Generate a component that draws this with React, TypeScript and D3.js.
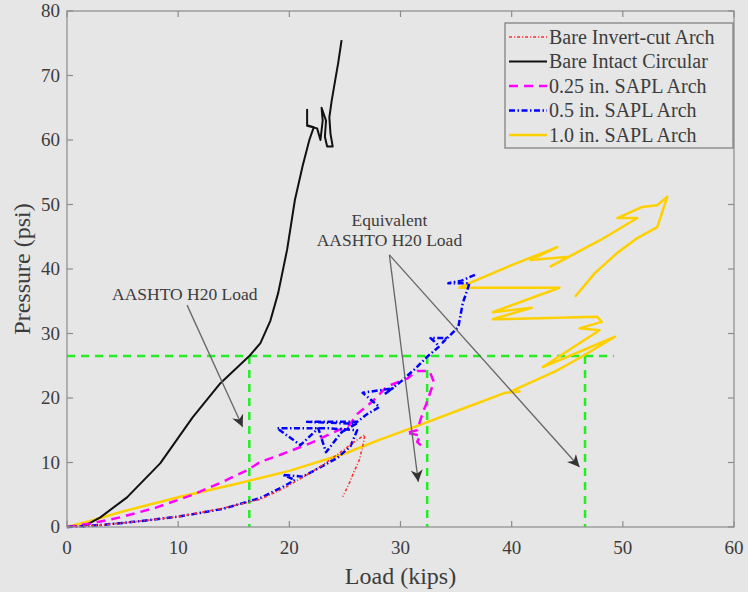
import React, { useEffect, useRef } from "react";
import * as d3 from "d3";

type Pt = [number, number];

// Load (kips) vs pressure (psi)
const bareInvertCut: Pt[] = [
  [0, 0], [3, 0.3], [6, 0.8], [10, 1.6], [14, 2.9], [17.4, 4.3], [19.5, 6], [21.6, 8.1],
  [23, 9.6], [24.3, 11.2], [25.3, 12.5], [26.1, 13.5], [26.8, 14.3], [26.6, 12.5],
  [26.3, 10.4], [25.8, 8.5], [25.4, 6.8], [24.8, 4.7],
];

const bareIntact: Pt[] = [
  [1.4, 0], [3, 1.5], [5.4, 4.6], [8.4, 9.9], [11.3, 17], [13.8, 22.3], [16.4, 26.5],
  [17.4, 28.5], [18.3, 32], [19, 36.3], [19.8, 43], [20.5, 50.7], [21.2, 56], [21.8, 60],
  [22.2, 62], [21.6, 62.3], [21.6, 64.7], [21.6, 62.2], [22.5, 61.8], [22.8, 60], [23, 63],
  [22.9, 65], [23.3, 63], [23.2, 60.5], [23.4, 59], [23.9, 59], [23.7, 61], [23.6, 63.5],
  [23.8, 66], [24.1, 69], [24.4, 72], [24.7, 75.5],
];

const sapl025: Pt[] = [
  [0, 0], [2, 0.5], [4.8, 1.5], [8, 3], [11.3, 5], [14, 7], [16.2, 8.8], [17.4, 10.1],
  [19.2, 11.2], [21.9, 13], [25.4, 15.8], [26.1, 17.5], [27.5, 19.5], [28.8, 21.8],
  [30.6, 23], [31.5, 24.2], [32.6, 24.2], [33, 22.5], [32.3, 19], [32, 17.7], [31.5, 15],
  [30.5, 14.6], [31.8, 14.2], [31.5, 13.2], [32, 12.4],
];

const sapl05: Pt[] = [
  [0, 0], [3, 0.3], [6, 0.8], [10, 1.6], [14, 2.8], [17.4, 4.5], [19.5, 6.3], [20.5, 7.3],
  [19.4, 8.1], [21.2, 7.8], [22.5, 9], [24.3, 10.7], [25.5, 12.5], [26.1, 15], [23.5, 15.3],
  [18.9, 15.3], [21, 12.7], [22.6, 15.3], [23.3, 11.6], [24.7, 14.7], [26, 16], [21.6, 16.3],
  [26.1, 16.3], [27, 17.5], [28.1, 18.6], [26.6, 20.8], [29.3, 21.5], [28.5, 20.5], [30, 22.5],
  [31.3, 24.5], [32.4, 26.4], [33.5, 28], [32.7, 29.3], [34.1, 29.3], [33.8, 28.6], [35.2, 31],
  [35.6, 34.7], [36, 36.7], [36.2, 37.8], [34.3, 37.8], [35.5, 38.2], [36.7, 39.1],
];

const sapl10: Pt[] = [
  [0, 0], [2, 0.9], [5, 2.4], [10, 4.6], [15, 6.6], [17.4, 7.6], [20, 8.7], [25, 11.4],
  [28.1, 13.5], [32, 16], [36, 18.6], [39.4, 20.8], [40.7, 21], [39.8, 20.9], [44, 24.2],
  [46.1, 26.2], [49.3, 29.5], [42.8, 24.8], [47.9, 30.5], [46.1, 30.8], [48.1, 31.8],
  [47.7, 32.6], [38.3, 32.2], [41.8, 34], [38.3, 33.3], [44.3, 37.1], [35.3, 37.1],
  [36.2, 37.8], [40, 40.6], [44.1, 43.4], [41.7, 41.4], [45.2, 41.9], [43.5, 40.4],
  [48, 44.5], [51.3, 47.9], [49.5, 47.9], [51.7, 49.6], [53.1, 49.9], [54, 51.2],
  [53.1, 46.5], [51.3, 44.8], [49.5, 42.5], [47.5, 39.4], [45.7, 35.7],
];

const h20Level = 26.5;
const h20Loads = [16.4, 32.4, 46.6];
const h20LineEnd = 49.2;

const xTicks = [0, 10, 20, 30, 40, 50, 60];
const yTicks = [0, 10, 20, 30, 40, 50, 60, 70, 80];

const seriesNames = [
  "Bare Invert-cut Arch",
  "Bare Intact Circular",
  "0.25 in. SAPL Arch",
  "0.5 in. SAPL Arch",
  "1.0 in. SAPL Arch",
];

const W = 748;
const H = 592;
const margin = { left: 67, right: 14, top: 11, bottom: 65 };
const font = "'Liberation Serif', 'Times New Roman', serif";

export default function App() {
  const svgRef = useRef<SVGSVGElement>(null);

  useEffect(() => {
    const svg = d3.select(svgRef.current);
    svg.selectAll("*").remove();

    const x = d3.scaleLinear().domain([0, 60]).range([margin.left, W - margin.right]);
    const y = d3.scaleLinear().domain([0, 80]).range([H - margin.bottom, margin.top]);

    svg.append("rect").attr("width", W).attr("height", H).attr("fill", "#e6e6e6");

    const defs = svg.append("defs");
    defs.append("marker")
      .attr("id", "arrow")
      .attr("viewBox", "0 0 10 10")
      .attr("refX", 10).attr("refY", 5)
      .attr("markerWidth", 14).attr("markerHeight", 12)
      .attr("markerUnits", "userSpaceOnUse")
      .attr("orient", "auto")
      .append("path")
      .attr("d", "M0,0 L10,5 L0,10 L3,5 Z")
      .attr("fill", "#333");

    const styles = [
      { data: bareInvertCut, color: "#ff3030", width: 1.6, dash: "3,2,1,2" },
      { data: bareIntact, color: "#111", width: 2, dash: null },
      { data: sapl025, color: "#ff00ff", width: 2.5, dash: "9,6" },
      { data: sapl05, color: "#0000ff", width: 2.5, dash: "6,2.5,1.5,2.5" },
      { data: sapl10, color: "#ffd000", width: 2.5, dash: null },
    ];

    const line = d3.line<Pt>().x(d => x(d[0])).y(d => y(d[1]));

    // green reference lines
    const g = svg.append("g").attr("stroke", "#22ee22").attr("stroke-width", 2.5)
      .attr("stroke-dasharray", "8,6").attr("fill", "none");
    g.append("line")
      .attr("x1", x(0)).attr("x2", x(h20LineEnd))
      .attr("y1", y(h20Level)).attr("y2", y(h20Level));
    h20Loads.forEach(v => {
      g.append("line")
        .attr("x1", x(v)).attr("x2", x(v))
        .attr("y1", y(h20Level)).attr("y2", y(0));
    });

    // draw order: yellow under the rest
    [4, 1, 2, 3, 0].forEach(i => {
      const s = styles[i];
      svg.append("path")
        .attr("d", line(s.data))
        .attr("fill", "none")
        .attr("stroke", s.color)
        .attr("stroke-width", s.width)
        .attr("stroke-linejoin", "round")
        .attr("stroke-dasharray", s.dash);
    });

    // axes box with inward ticks
    const box = svg.append("g").attr("stroke", "#8c8c8c").attr("stroke-width", 1.2);
    box.append("rect")
      .attr("x", x(0)).attr("y", y(80))
      .attr("width", x(60) - x(0)).attr("height", y(0) - y(80))
      .attr("fill", "none");
    const tl = 6;
    xTicks.forEach(t => {
      box.append("line").attr("x1", x(t)).attr("x2", x(t)).attr("y1", y(0)).attr("y2", y(0) - tl);
      box.append("line").attr("x1", x(t)).attr("x2", x(t)).attr("y1", y(80)).attr("y2", y(80) + tl);
    });
    yTicks.forEach(t => {
      box.append("line").attr("x1", x(0)).attr("x2", x(0) + tl).attr("y1", y(t)).attr("y2", y(t));
      box.append("line").attr("x1", x(60)).attr("x2", x(60) - tl).attr("y1", y(t)).attr("y2", y(t));
    });

    const txt = svg.append("g").attr("font-family", font).attr("fill", "#3c3c3c");
    xTicks.forEach(t => {
      txt.append("text").attr("x", x(t)).attr("y", y(0) + 27)
        .attr("text-anchor", "middle").attr("font-size", 19).text(t);
    });
    yTicks.forEach(t => {
      txt.append("text").attr("x", x(0) - 7).attr("y", y(t) + 6)
        .attr("text-anchor", "end").attr("font-size", 19).text(t);
    });
    txt.append("text").attr("x", (x(0) + x(60)) / 2).attr("y", 584)
      .attr("text-anchor", "middle").attr("font-size", 24).text("Load (kips)");
    txt.append("text")
      .attr("transform", `translate(30, ${(y(0) + y(80)) / 2}) rotate(-90)`)
      .attr("text-anchor", "middle").attr("font-size", 24).text("Pressure (psi)");

    // annotations
    const ann = svg.append("g").attr("font-family", font).attr("fill", "#3c3c3c").attr("font-size", 17.5);
    ann.append("text").attr("x", x(10.6)).attr("y", y(35.2)).attr("text-anchor", "middle").text("AASHTO H20 Load");
    ann.append("text").attr("x", x(29)).attr("y", y(46.6)).attr("text-anchor", "middle").text("Equivalent");
    ann.append("text").attr("x", x(29)).attr("y", y(43.5)).attr("text-anchor", "middle").text("AASHTO H20 Load");

    const arrows: [Pt, Pt][] = [
      [[10.8, 34.4], [15.8, 15.5]],
      [[29, 42.2], [31.6, 7.0]],
      [[29, 42.2], [46.1, 9.3]],
    ];
    arrows.forEach(([a, b]) => {
      svg.append("line")
        .attr("x1", x(a[0])).attr("y1", y(a[1]))
        .attr("x2", x(b[0])).attr("y2", y(b[1]))
        .attr("stroke", "#666").attr("stroke-width", 1.3)
        .attr("marker-end", "url(#arrow)");
    });

    // legend
    const lg = svg.append("g").attr("transform", "translate(505,23)");
    lg.append("rect").attr("width", 228).attr("height", 125)
      .attr("fill", "#e6e6e6").attr("stroke", "#7a7a7a").attr("stroke-width", 1.2);
    seriesNames.forEach((name, i) => {
      const s = styles[i];
      const yy = 14 + i * 24.5;
      lg.append("line").attr("x1", 4).attr("x2", 42).attr("y1", yy).attr("y2", yy)
        .attr("stroke", s.color).attr("stroke-width", s.width)
        .attr("stroke-dasharray", s.dash);
      lg.append("text").attr("x", 44).attr("y", yy + 6.5)
        .attr("font-family", font).attr("font-size", 20).attr("fill", "#3c3c3c")
        .text(name);
    });
  }, []);

  return (
    <svg
      ref={svgRef}
      width={W}
      height={H}
      style={{ position: "absolute", left: 0, top: 0, display: "block" }}
    />
  );
}
